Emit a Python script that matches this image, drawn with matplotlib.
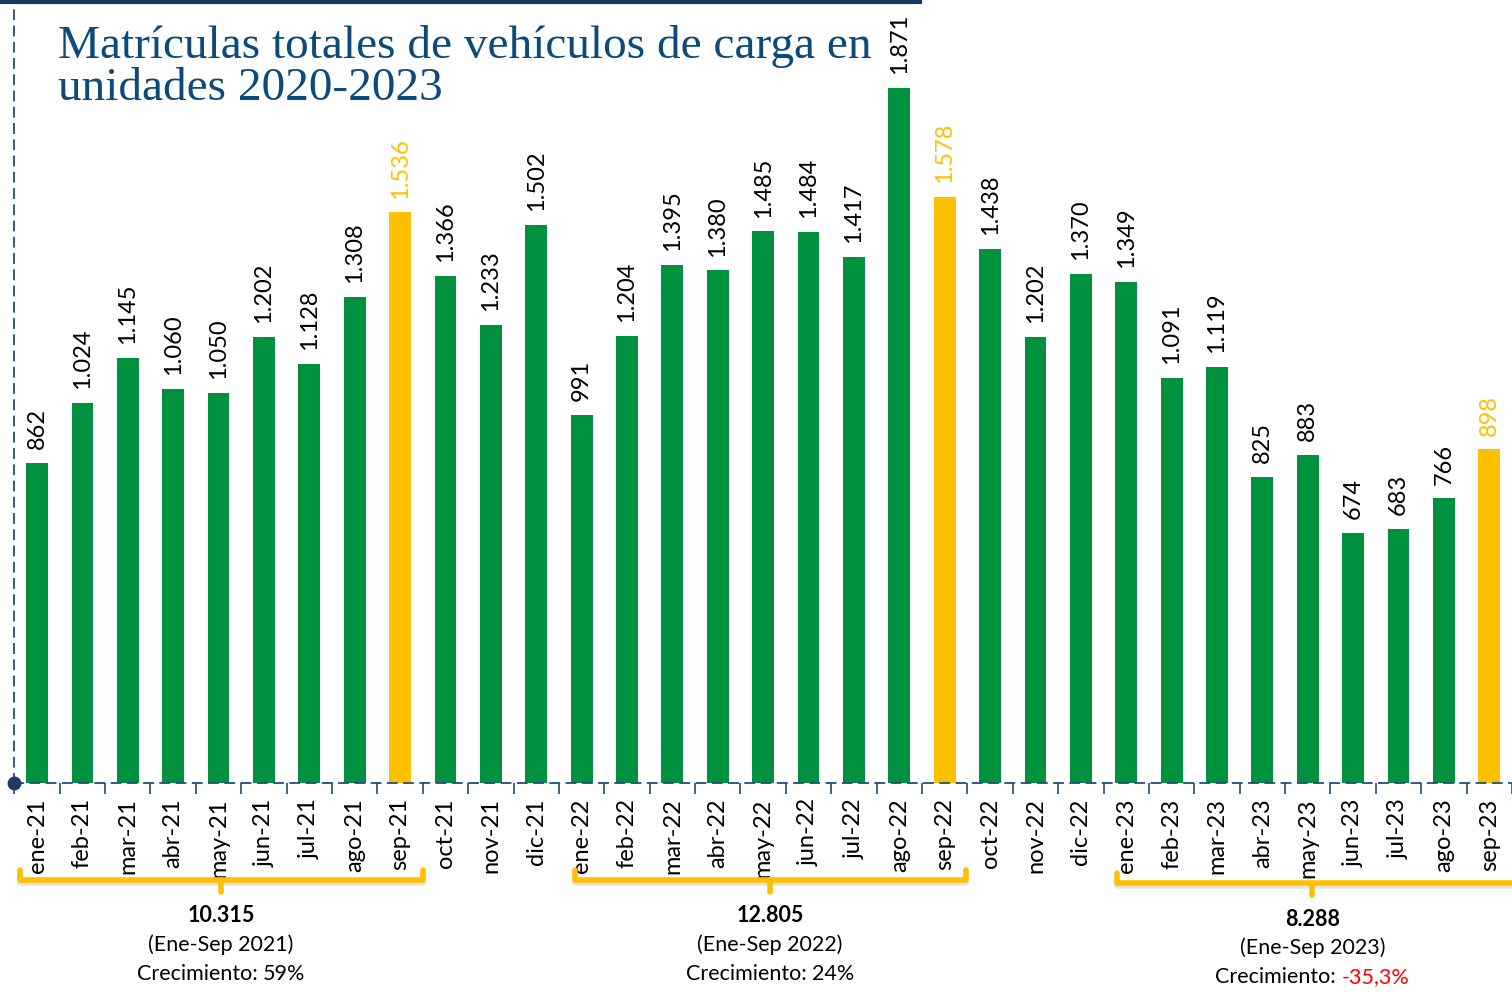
import matplotlib
matplotlib.use("Agg")
import matplotlib.pyplot as plt
from matplotlib.lines import Line2D
import numpy as np

meses = ["ene", "feb", "mar", "abr", "may", "jun", "jul", "ago", "sep", "oct", "nov", "dic"]
etiquetas = [f"{m}-21" for m in meses] + [f"{m}-22" for m in meses] + [f"{m}-23" for m in meses[:9]]

valores_2021 = [862, 1024, 1145, 1060, 1050, 1202, 1128, 1308, 1536, 1366, 1233, 1502]
valores_2022 = [991, 1204, 1395, 1380, 1485, 1484, 1417, 1871, 1578, 1438, 1202, 1370]
valores_2023 = [1349, 1091, 1119, 825, 883, 674, 683, 766, 898]
valores = valores_2021 + valores_2022 + valores_2023

totales = ["10.315", "12.805", "8.288"]
periodos = ["(Ene-Sep 2021)", "(Ene-Sep 2022)", "(Ene-Sep 2023)"]
crecimientos = ["59%", "24%", "-35,3%"]

VERDE = "#00913F"
AMARILLO = "#FFC000"
AZUL = "#1F4E79"
W, H = 1512, 992

plt.rcParams['font.family'] = ['Lato', 'DejaVu Sans']

fig = plt.figure(figsize=(W / 100, H / 100), dpi=100)
ax = fig.add_axes([14 / W, (H - 783) / H, 1 - 14 / W, 783 / H])

x = np.arange(len(valores))
colores = [AMARILLO if e.startswith("sep") else VERDE for e in etiquetas]
ax.bar(x, valores, width=0.48, color=colores, zorder=2)

for xi, v, c in zip(x, valores, colores):
    txt = f"{v:,}".replace(",", ".")
    ax.annotate(txt, (xi, v), xytext=(0, 10), textcoords="offset points",
                rotation=90, ha="center", va="bottom", fontsize=17,
                color=AMARILLO if c == AMARILLO else "black")

ax.set_xlim(-0.507, 32.49)
ax.set_ylim(0, 2108)
ax.set_xticks(x)
ax.set_xticklabels(etiquetas, rotation=90, fontsize=17, va="top")
ax.set_xticks(np.arange(-0.5, 33, 1), minor=True)
ax.tick_params(axis="x", which="major", length=0, pad=11)
ax.tick_params(axis="x", which="minor", length=8, width=1.2, color=AZUL, direction="out")
ax.set_yticks([])

for s in ["top", "right"]:
    ax.spines[s].set_visible(False)
for s in ["left", "bottom"]:
    ax.spines[s].set_color(AZUL)
    ax.spines[s].set_linewidth(1.3)
    ax.spines[s].set_linestyle((0, (5, 4)))
ax.plot([0], [0], "o", color="#1F3B60", ms=9, transform=ax.transAxes, clip_on=False, zorder=5)

# linea superior
fig.add_artist(Line2D([0, 920 / W], [1 - 1.5 / H] * 2, color="#17375E", lw=3))

# titulo
fig.text(58 / W, 1 - 58 / H, "Matrículas totales de vehículos de carga en",
         family="Liberation Serif", fontsize=34, color="#0B4A7A", va="baseline")
fig.text(58 / W, 1 - 100 / H, "unidades 2020-2023",
         family="Liberation Serif", fontsize=34, color="#0B4A7A", va="baseline")

# llaves por periodo
trans = ax.get_xaxis_transform()
grupos = [(-0.37, 8.5, 4.05, 880), (11.85, 20.48, 16.15, 880), (23.8, 32.6, 28.1, 883)]
fig.canvas.draw()
for (a, b, c, ypx), tot, per, cre in zip(grupos, totales, periodos, crecimientos):
    yb = -(ypx - 783) / 783
    up = 10 / 783
    dn = 12 / 783
    ax.add_line(Line2D([a, a, b, b], [yb + up - 3 / 783, yb - 3 / 783, yb - 3 / 783, yb + up - 3 / 783],
                       transform=trans, color="#C8C8C8", lw=4, clip_on=False, alpha=0.5, zorder=1))
    ax.add_line(Line2D([a, a, b, b], [yb + up, yb, yb, yb + up], transform=trans,
                       color=AMARILLO, lw=4, clip_on=False, solid_joinstyle="round",
                       solid_capstyle="round"))
    ax.add_line(Line2D([c, c], [yb, yb - dn], transform=trans, color=AMARILLO,
                       lw=4, clip_on=False, solid_capstyle="round"))
    y0 = ypx + 36
    ax.text(c, -(y0 - 783) / 783, tot, transform=trans, ha="center", va="center",
            fontsize=15.5, fontweight="bold")
    ax.text(c, -(y0 + 29 - 783) / 783, per, transform=trans, ha="center", va="center",
            fontsize=15.5)
    # "Crecimiento: " en negro y el valor en rojo si es negativo
    fy = 1 - (y0 + 58) / H
    cx = ax.transData.transform((c, 0))[0] / W
    t1 = fig.text(0, fy, "Crecimiento: ", ha="left", va="center", fontsize=15.5)
    t2 = fig.text(0, fy, cre, ha="left", va="center", fontsize=15.5,
                  color="#FF0000" if cre.startswith("-") else "black")
    fig.canvas.draw()
    w1 = t1.get_window_extent().width / W
    w2 = t2.get_window_extent().width / W
    t1.set_x(cx - (w1 + w2) / 2)
    t2.set_x(cx - (w1 + w2) / 2 + w1)

fig.savefig("out.png", dpi=100)
